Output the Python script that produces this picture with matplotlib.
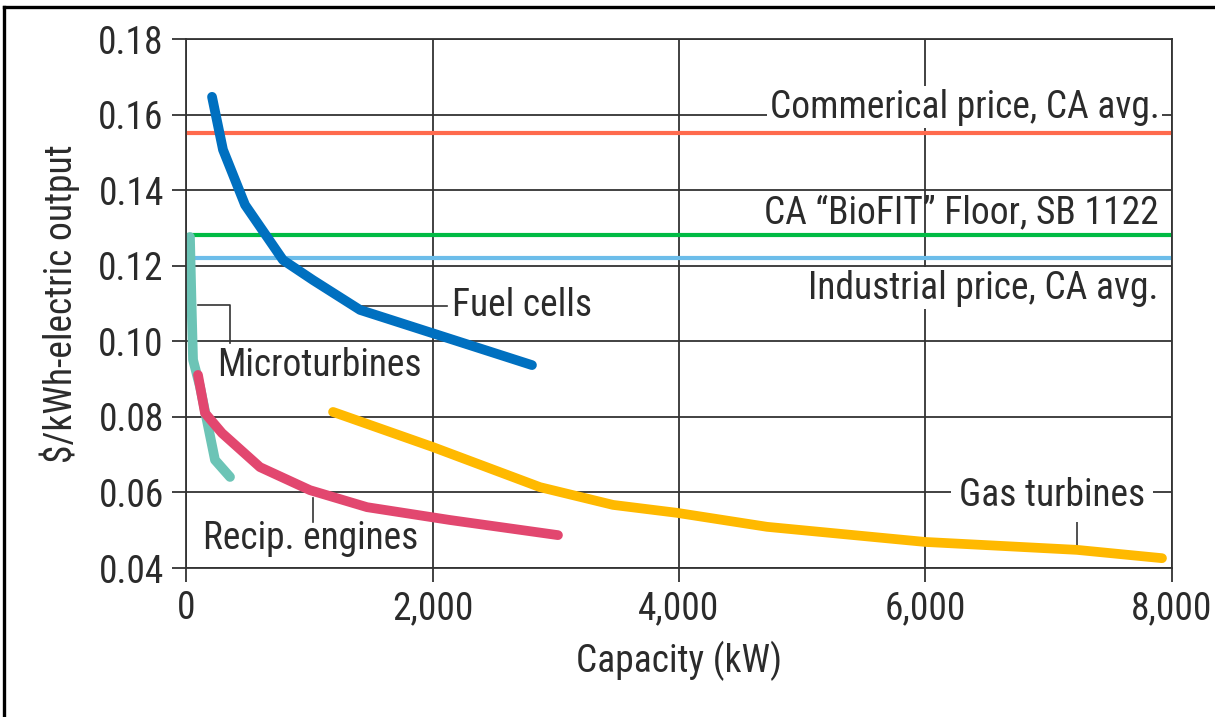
import matplotlib
matplotlib.use("Agg")
from matplotlib import pyplot as plt
from matplotlib.lines import Line2D

plt.rcParams['font.family'] = ['Roboto Condensed', 'DejaVu Sans']

# price levels ($/kWh)
commercial_price = 0.155
biofit_floor = 0.128
industrial_price = 0.122

# cost curves, capacity (kW) vs $/kWh
fuel_kw = [211, 300, 479, 787, 1030, 1412, 2807]
fuel_cost = [0.1647, 0.1507, 0.1361, 0.1215, 0.1162, 0.1083, 0.0937]

micro_kw = [32, 44, 57, 114, 235, 357]
micro_cost = [0.1276, 0.111, 0.0951, 0.0879, 0.0686, 0.0641]

recip_kw = [97, 154, 292, 600, 1006, 1469, 2142, 3018]
recip_cost = [0.0911, 0.0810, 0.0757, 0.0667, 0.0606, 0.0561, 0.0527, 0.0487]

gas_kw = [1193, 2004, 2872, 3465, 3984, 4714, 5996, 7229, 7919]
gas_cost = [0.0813, 0.0720, 0.0614, 0.0567, 0.0546, 0.0509, 0.0469, 0.0448, 0.0426]

x_ticks = [0, 2000, 4000, 6000, 8000]
x_labels = ['0', '2,000', '4,000', '6,000', '8,000']
y_ticks = [0.04, 0.06, 0.08, 0.10, 0.12, 0.14, 0.16, 0.18]

TXT = '#2b2b2b'
GRID = '#333333'
FS = 27

fig = plt.figure(figsize=(12.15, 7.17), dpi=100)
ax = fig.add_axes([0.1531, 0.2078, 0.8115, 0.7378])

ax.set_xlim(0, 8000)
ax.set_ylim(0.04, 0.18)
ax.set_xticks(x_ticks)
ax.set_xticklabels(x_labels)
ax.set_yticks(y_ticks)
ax.set_yticklabels(['%.2f' % v for v in y_ticks])
ax.tick_params(direction='out', length=10, width=1.3, colors=GRID,
               labelcolor=TXT, labelsize=FS, pad=6)
ax.grid(True, color=GRID, linewidth=1.3)
ax.set_axisbelow(True)
for s in ax.spines.values():
    s.set_color(GRID)
    s.set_linewidth(1.3)

# horizontal price lines
ax.axhline(commercial_price, color='#ff6a4d', lw=3, zorder=2)
ax.axhline(biofit_floor, color='#00bb44', lw=3, zorder=2)
ax.axhline(industrial_price, color='#6cbdea', lw=3, zorder=2)

# curves
curve = dict(lw=7, solid_capstyle='round', solid_joinstyle='round')
ax.plot(micro_kw, micro_cost, color='#6cc4b6', zorder=2, **curve)
ax.plot(recip_kw, recip_cost, color='#e2476f', zorder=2.1, **curve)
ax.plot(fuel_kw, fuel_cost, color='#0070c0', zorder=2.2, **curve)
ax.plot(gas_kw, gas_cost, color='#ffb900', zorder=2, **curve)

box = dict(facecolor='white', edgecolor='none', pad=2)

ax.text(7900, 0.1620, 'Commerical price, CA avg.', ha='right', va='center',
        fontsize=FS, color=TXT, bbox=box, zorder=3)
ax.text(7890, 0.1340, 'CA \u201cBioFIT\u201d Floor, SB 1122', ha='right', va='center',
        fontsize=FS, color=TXT, zorder=3)
ax.text(7890, 0.1141, 'Industrial price, CA avg.', ha='right', va='center',
        fontsize=FS, color=TXT, bbox=box, zorder=3)

# fuel cells label + leader
ax.plot([1430, 2120], [0.1094, 0.1094], color=GRID, lw=1.2, zorder=1.5)
ax.text(2158, 0.1094, 'Fuel cells', ha='left', va='center', fontsize=FS, color=TXT, zorder=3)

# microturbines label + leader
ax.plot([97, 357, 357], [0.1096, 0.1096, 0.0996], color=GRID, lw=1.2, zorder=1.5)
ax.text(252, 0.0937, 'Microturbines', ha='left', va='center', fontsize=FS, color=TXT, zorder=3)

# recip engines label + leader
ax.plot([1030, 1030], [0.0585, 0.0522], color=GRID, lw=1.2, zorder=1.5)
ax.text(138, 0.0479, 'Recip. engines', ha='left', va='center', fontsize=FS, color=TXT, zorder=3)

# gas turbines label + leader
ax.plot([7229, 7229], [0.0527, 0.0442], color=GRID, lw=1.2, zorder=1.5)
ax.text(7026, 0.0593, 'Gas turbines', ha='center', va='center', fontsize=FS, color=TXT,
        bbox=dict(facecolor='white', edgecolor='none', pad=6), zorder=3)

ax.set_xlabel('Capacity (kW)', fontsize=FS, color=TXT, labelpad=10)
ax.set_ylabel('$/kWh-electric output', fontsize=FS, color=TXT)
ax.yaxis.set_label_coords(-0.108, 0.5)

# outer frame (top and left edges)
fig.add_artist(Line2D([0.0033, 1.0], [0.9902, 0.9902], transform=fig.transFigure,
                      color='black', lw=2.4))
fig.add_artist(Line2D([0.0033, 0.0033], [0.0, 0.9902], transform=fig.transFigure,
                      color='black', lw=2.4))

fig.savefig('out.png', dpi=100)
